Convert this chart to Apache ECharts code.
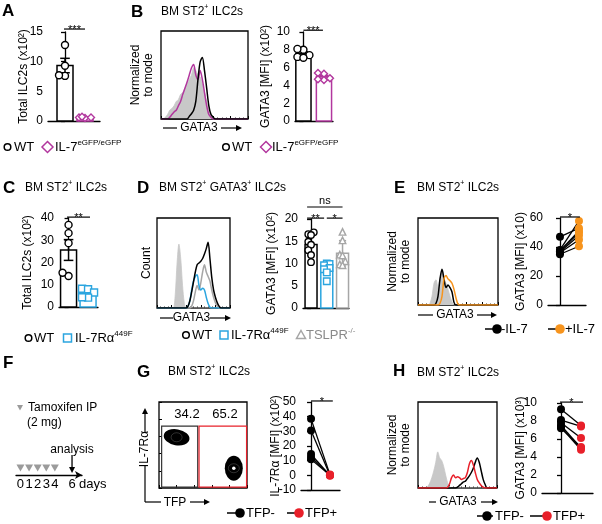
<!DOCTYPE html>
<html><head><meta charset="utf-8">
<script src="https://cdn.jsdelivr.net/npm/echarts@6/dist/echarts.min.js"></script>
<style>html,body{margin:0;padding:0;background:#fff}#c{width:602px;height:524px}</style>
</head><body><div id="c"></div><script>
// ================= DATA =================
// Panel A
const A_WT = [12.8, 9.3, 7.6, 7.7];
const A_KO = [0.5, 0.6, 0.7, 0.6];
const A_yTicks = [0, 5, 10, 15];
const A_sig = [[-0.05, 1.0, 15.5]];
const A_sigText = ['***'];
// Panel B
const B_histIso = [0,0,0.02,0.05,0.1,0.12,0.15,0.2,0.22,0.28,0.3,0.35,0.4,0.45,0.5,0.58,0.55,0.5,0.48,0.4,0.3,0.2,0.1,0.05,0.02,0,0,0,0,0,0,0,0,0,0,0,0,0,0,0,0];
const B_histKO  = [0,0,0,0,0.02,0.05,0.08,0.1,0.15,0.2,0.28,0.35,0.42,0.5,0.58,0.62,0.5,0.45,0.55,0.45,0.3,0.15,0.05,0.02,0,0,0,0,0,0,0,0,0,0,0,0,0,0,0,0,0];
const B_histWT  = [0,0,0,0,0,0,0,0,0,0,0,0,0,0.03,0.06,0.1,0.2,0.45,0.65,0.7,0.55,0.35,0.15,0.05,0.02,0,0,0,0,0,0,0,0,0,0,0,0,0,0,0,0];
const B_WT = [8.0, 7.4, 8.1, 7.2, 7.1];
const B_KO = [5.3, 5.4, 4.6, 4.7, 4.8];
const B_yTicks = [0, 2, 4, 6, 8, 10];
const B_sig = [[0, 0.95, 10.2]];
const B_sigText = ['***'];
// Panel C
const C_WT = [36.9, 33.2, 28.7, 13.9, 15.4];
const C_KI = [8.2, 8.0, 6.5, 4.2, 4.4];
const C_yTicks = [0, 10, 20, 30, 40];
const C_sig = [[-0.08, 1.1, 40.4]];
const C_sigText = ['**'];
// Panel D
const D_histIso   = [0,0,0,0,0,0,0,0,0,0,0.15,0.5,0.71,0.55,0.25,0.05,0,0,0,0,0,0,0,0,0,0,0,0,0,0,0,0,0,0,0,0,0,0,0,0,0];
const D_histTSLPR = [0,0,0,0,0,0,0,0,0,0,0,0,0,0,0,0,0,0,0,0.02,0.08,0.18,0.25,0.2,0.28,0.4,0.48,0.4,0.35,0.3,0.2,0.12,0.06,0.02,0,0,0,0,0,0,0];
const D_histKI    = [0,0,0,0,0,0,0,0,0,0,0,0,0,0,0,0,0,0.02,0.08,0.2,0.3,0.35,0.37,0.25,0.2,0.22,0.2,0.12,0.05,0.01,0,0,0,0,0,0,0,0,0,0,0];
const D_histWT    = [0,0,0,0,0,0,0,0,0,0,0,0,0,0,0,0,0,0.02,0.08,0.18,0.29,0.4,0.48,0.5,0.52,0.55,0.6,0.66,0.73,0.55,0.34,0.2,0.12,0.06,0.02,0,0,0,0,0,0];
const D_WT = [16.6, 17.0, 16.4, 14.9, 14.2, 13.0, 11.9, 10.3];
const D_KI = [10.0, 9.9, 9.6, 9.0, 8.7, 8.0, 6.0];
const D_TSLPR = [17.1, 15.2, 12.0, 11.8, 10.5, 9.8, 9.6];
const D_yTicks = [0, 5, 10, 15, 20];
const D_sig = [[-0.25, 2.0, 22.7], [-0.25, 0.83, 20.2], [1.0, 2.0, 20.2]];
const D_sigText = ['ns', '**', '*'];
// Panel E
const E_histIso  = [0,0,0,0,0,0,0.02,0.1,0.25,0.29,0.2,0.3,0.4,0.3,0.25,0.18,0.1,0.04,0,0,0,0,0,0,0,0,0,0,0,0,0,0,0,0,0,0,0,0,0,0,0];
const E_histNo   = [0,0,0,0,0,0,0,0,0,0.02,0.1,0.3,0.41,0.3,0.2,0.23,0.2,0.15,0.03,0,0,0,0,0,0,0,0,0,0,0,0,0,0,0,0,0,0,0,0,0,0];
const E_histIL7  = [0,0,0,0,0,0,0,0,0,0,0,0.02,0.1,0.3,0.34,0.3,0.28,0.25,0.18,0.08,0.01,0,0,0,0,0,0,0,0,0,0,0,0,0,0,0,0,0,0,0,0];
const E_noIL7 = [47, 38, 37.5, 37, 36.5, 36, 35];
const E_IL7   = [53, 58, 51, 50, 48, 45, 40.5];
const E_yTicks = [0, 20, 40, 60];
const E_sig = [[0, 1.05, 60.7]];
const E_sigText = ['*'];
// Panel F
const F_injectionDays = [0, 1, 2, 3, 4];
const F_analysisDay = [6];
const F_dayTicks = [0, 1, 2, 3, 4, 6];
// Panel G
const G_gates = [[3, 1, 44, 72], [45.5, 1, 99.5, 72]];
const G_gateFreq = ['34.2', '65.2'];
const G_populations = [[20, 59], [85, 23]];
const G_TFPneg = [38.5, 30.5, 14.5, 12.5, 11];
const G_TFPpos = [0.5, 0, -0.3, 0.2, 0];
const G_yTicks = [-10, 0, 10, 20, 30, 40, 50];
const G_sig = [[0, 1.15, 50.7]];
const G_sigText = ['*'];
// Panel H
const H_histIso = [0,0,0,0,0,0.02,0.06,0.12,0.2,0.3,0.42,0.35,0.32,0.25,0.15,0.06,0.01,0,0,0,0,0,0,0,0,0,0,0,0,0,0,0,0,0,0,0,0,0,0,0,0];
const H_histNeg = [0,0,0,0,0,0,0,0,0,0,0,0,0,0,0,0,0,0,0,0,0.01,0.03,0.05,0.07,0.08,0.11,0.14,0.18,0.23,0.3,0.35,0.3,0.2,0.1,0.04,0,0,0,0,0,0];
const H_histPos = [0,0,0,0,0,0,0,0,0,0,0,0,0,0,0,0.01,0.05,0.12,0.15,0.12,0.13,0.12,0.1,0.11,0.12,0.18,0.28,0.32,0.27,0.18,0.1,0.06,0.03,0.01,0,0,0,0,0,0,0];
const H_TFPneg = [9.3, 8.1, 7.8, 7.5, 7.3, 7.2];
const H_TFPpos = [7.5, 7.4, 6.1, 5.0, 4.8, 5.1];
const H_yTicks = [0, 2, 4, 6, 8, 10];
const H_sig = [[-0.05, 1.1, 10.1]];
const H_sigText = ['*'];

// ================= STYLE / BUILD =================
const FONT = '"Liberation Sans", Arial, Helvetica, sans-serif';
const MAG = '#b2379e', BLUE = '#2ba5df', TGRAY = '#a6a6a6', ORANGE = '#f7941d', RED = '#e8202a', HGRAY = '#c8c8c8';
const option = {animation:false, backgroundColor:'#fff', grid:[], xAxis:[], yAxis:[], series:[], graphic:[]};
const AX = {color:'#000', width:1.3};

function addGrid(grid, xa, ya){
  const i = option.grid.length;
  option.grid.push(grid);
  option.xAxis.push(Object.assign({gridIndex:i}, xa));
  option.yAxis.push(Object.assign({gridIndex:i}, ya));
  return i;
}
function valueYAxis(ticks, name, nameGap){
  return {type:'value', min:ticks[0], max:ticks[ticks.length-1], interval:ticks[1]-ticks[0],
    name:name, nameLocation:'middle', nameGap:nameGap, nameRotate:90, nameMoveOverlap:false,
    nameTextStyle:{fontFamily:FONT, fontSize:12, color:'#000'},
    axisLine:{show:true, lineStyle:AX}, axisTick:{show:true, length:4, lineStyle:AX},
    axisLabel:{fontFamily:FONT, fontSize:12, color:'#000', margin:5}, splitLine:{show:false}};
}
function plainXAxis(min, max){
  return {type:'value', min:min, max:max, axisLine:{show:true, onZero:false, lineStyle:AX},
    axisTick:{show:false}, axisLabel:{show:false}, splitLine:{show:false}};
}
// simple beeswarm: offsets (in px) so that symbols of diameter d do not overlap, limited to +-maxOff
function swarm(vals, k, pxX, pxY, d, maxOff){
  const order = vals.map((v, i) => i).sort((a, b) => vals[a] - vals[b]);
  const placed = [], out = new Array(vals.length);
  order.forEach(i => {
    const v = vals[i];
    const cands = [0];
    for (let s = 1; s <= 8; s++) { cands.push(-s * d / 2, s * d / 2); }
    let best = 0, bestScore = -1;
    for (const c of cands) {
      if (Math.abs(c) > maxOff) continue;
      let mind = Infinity;
      placed.forEach(p => { mind = Math.min(mind, Math.hypot(c - p[0], (v - p[1]) * pxY)); });
      if (mind >= d) { best = c; bestScore = Infinity; break; }
      if (mind > bestScore) { bestScore = mind; best = c; }
    }
    placed.push([best, v]);
    out[i] = [k + best / pxX, v];
  });
  return out;
}
function sigSeries(gi, sigs, texts){
  option.series.push({type:'custom', xAxisIndex:gi, yAxisIndex:gi, silent:true, z:5, clip:false,
    data:sigs.map(s => [s[0], s[1], s[2]]),
    renderItem:(p, api) => {
      const s = sigs[p.dataIndex], t = texts[p.dataIndex];
      const a = api.coord([s[0], s[2]]), b = api.coord([s[1], s[2]]);
      const star = t.indexOf('*') >= 0;
      return {type:'group', children:[
        {type:'line', shape:{x1:a[0], y1:a[1], x2:b[0], y2:b[1]}, style:{stroke:'#000', lineWidth:1.2}},
        {type:'text', x:(a[0]+b[0])/2, y: star ? a[1]+1 : a[1]-1,
         style:{text:t, fontFamily:FONT, fontSize:11, fill:'#000', align:'center', verticalAlign: star ? 'middle' : 'bottom'}}
      ]};
    }});
}
function barPanel(cfg){
  const gi = addGrid({left:cfg.box[0], top:cfg.box[1], width:cfg.box[2], height:cfg.box[3]},
    plainXAxis(cfg.xr[0], cfg.xr[1]), valueYAxis(cfg.ticks, cfg.name, cfg.nameGap));
  const pxX = cfg.box[2] / (cfg.xr[1] - cfg.xr[0]);
  const pxY = cfg.box[3] / (cfg.ticks[cfg.ticks.length-1] - cfg.ticks[0]);
  cfg.groups.forEach((vals, k) => {
    const n = vals.length, mean = vals.reduce((a, b) => a + b, 0) / n;
    const sd = Math.sqrt(vals.reduce((a, b) => a + (b - mean) * (b - mean), 0) / (n - 1));
    const err = cfg.err === 'sem' ? sd / Math.sqrt(n) : sd;
    const col = cfg.colors[k], hw = cfg.halfW;
    option.series.push({type:'custom', xAxisIndex:gi, yAxisIndex:gi, z:2, silent:true, clip:false,
      data:[[k, mean, err]],
      renderItem:(p, api) => {
        const x = api.value(0), m = api.value(1), e = api.value(2);
        const bl = api.coord([x - hw, 0]), tr = api.coord([x + hw, m]);
        const t = api.coord([x, m + e]), b = api.coord([x, m - e]);
        const cw = (tr[0] - bl[0]) * 0.3;
        const st = {stroke:col, lineWidth:1.5};
        return {type:'group', children:[
          {type:'rect', shape:{x:bl[0], y:tr[1], width:tr[0]-bl[0], height:bl[1]-tr[1]}, style:{fill:'#fff', stroke:col, lineWidth:1.5}},
          {type:'line', shape:{x1:t[0], y1:t[1], x2:b[0], y2:b[1]}, style:st},
          {type:'line', shape:{x1:t[0]-cw, y1:t[1], x2:t[0]+cw, y2:t[1]}, style:st},
          {type:'line', shape:{x1:b[0]-cw, y1:b[1], x2:b[0]+cw, y2:b[1]}, style:st}
        ]};
      }});
    const ss = cfg.symSize || 7;
    option.series.push({type:'scatter', xAxisIndex:gi, yAxisIndex:gi, z:3, silent:true,
      data:swarm(vals, k, pxX, pxY, ss - 1, hw * pxX - 1.5), symbol:cfg.symbols[k], symbolSize:ss,
      itemStyle:{color:'#fff', borderColor:col, borderWidth:1.4, opacity:1}});
  });
  sigSeries(gi, cfg.sig, cfg.sigText);
  return gi;
}
function pairedPanel(cfg){
  const gi = addGrid({left:cfg.box[0], top:cfg.box[1], width:cfg.box[2], height:cfg.box[3]},
    plainXAxis(cfg.xr[0], cfg.xr[1]), valueYAxis(cfg.ticks, cfg.name, cfg.nameGap));
  cfg.a.forEach((v, i) => {
    option.series.push({type:'line', xAxisIndex:gi, yAxisIndex:gi, silent:true, z:3,
      data:[{value:[0, cfg.a[i]], itemStyle:{color:cfg.ca}}, {value:[1, cfg.b[i]], itemStyle:{color:cfg.cb}}],
      symbol:'circle', symbolSize:8, showSymbol:true, lineStyle:{color:'#000', width:1.3}, itemStyle:{opacity:1}});
  });
  sigSeries(gi, cfg.sig, cfg.sigText);
  return gi;
}
function histPanel(cfg){
  const gi = addGrid({left:cfg.box[0], top:cfg.box[1], width:cfg.box[2], height:cfg.box[3], show:true, borderColor:'#000', borderWidth:1.3, backgroundColor:'rgba(0,0,0,0)'},
    {type:'value', min:0, max:40, interval:8, axisLine:{show:false}, axisTick:{show:true, inside:true, length:3, lineStyle:{color:'#000', width:1}},
     minorTick:{show:true, splitNumber:4, length:1.5, lineStyle:{color:'#000', width:0.8}}, axisLabel:{show:false}, splitLine:{show:false}},
    {type:'value', min:0, max:1, axisLine:{show:false}, axisTick:{show:false}, axisLabel:{show:false}, splitLine:{show:false},
     name:cfg.name, nameLocation:'middle', nameGap:cfg.nameGap, nameRotate:90, nameMoveOverlap:false,
     nameTextStyle:{fontFamily:FONT, fontSize:12, color:'#000', lineHeight:13}});
  cfg.curves.forEach((c, idx) => {
    const s = {type:'line', xAxisIndex:gi, yAxisIndex:gi, silent:true, z:2 + idx,
      data:c.data.map((v, i) => [i, v]), smooth:0.3, symbol:'none', showSymbol:false,
      lineStyle:{color:c.color, width:c.fill ? 0.8 : 1.5}};
    if (c.fill) s.areaStyle = {color:c.color, opacity:1};
    option.series.push(s);
  });
  return gi;
}

// ---------- graphic helpers
const GR = option.graphic;
const RICH = (fs) => ({n:{fontFamily:FONT, fontSize:fs, lineHeight:fs + 4}, s:{fontFamily:FONT, fontSize:Math.round(fs*0.62), lineHeight:Math.round(fs*0.62)+1, verticalAlign:'top'}});
function txt(x, y, text, o){
  o = o || {};
  const st = {text:text, fontFamily:FONT, fontSize:o.fs || 12, fill:o.color || '#000', align:o.align || 'left', verticalAlign:o.va || 'middle', fontWeight:o.fw || 'normal'};
  if (o.rich) st.rich = RICH(o.fs || 12);
  GR.push({type:'text', x:x, y:y, rotation:o.rot || 0, silent:true, style:st});
}
function ln(x1, y1, x2, y2, color, w){ GR.push({type:'line', silent:true, shape:{x1:x1, y1:y1, x2:x2, y2:y2}, style:{stroke:color || '#000', lineWidth:w || 1.2}}); }
function poly(points, fill){ GR.push({type:'polygon', silent:true, shape:{points:points}, style:{fill:fill || '#000'}}); }
function shape(kind, cx, cy, color){
  const st = {fill:'#fff', stroke:color, lineWidth:1.5};
  if (kind === 'circle') GR.push({type:'circle', silent:true, shape:{cx:cx, cy:cy, r:3.3}, style:st});
  if (kind === 'diamond') GR.push({type:'polygon', silent:true, shape:{points:[[cx, cy-5.5],[cx+5.5, cy],[cx, cy+5.5],[cx-5.5, cy]]}, style:st});
  if (kind === 'rect') GR.push({type:'rect', silent:true, shape:{x:cx-4, y:cy-4, width:8, height:8}, style:st});
  if (kind === 'triangle') GR.push({type:'polygon', silent:true, shape:{points:[[cx, cy-4.5],[cx+4.5, cy+3.5],[cx-4.5, cy+3.5]]}, style:st});
}
function dotLegend(x1, x2, cx, y, color, tx, label){
  ln(x1, y, x2, y, '#000', 1.5);
  GR.push({type:'circle', silent:true, shape:{cx:cx, cy:y, r:4.8}, style:{fill:color}});
  txt(tx, y, label, {fs:13});
}
function arrowLabel(x1, a, b, x2, y, tc, label){
  ln(x1, y, a, y); ln(b, y, x2 - 4, y);
  poly([[x2, y], [x2 - 6, y - 3], [x2 - 6, y + 3]]);
  txt(tc, y, label, {fs:12, align:'center'});
}

// ================= PANELS =================
// A
barPanel({box:[48, 32, 52, 89], xr:[-0.85, 1.75], ticks:A_yTicks, name:'Total ILC2s (x10²)', nameGap:18,
  groups:[A_WT, A_KO], colors:['#000', MAG], symbols:['circle', 'diamond'], err:'sem', halfW:0.4,
  sig:A_sig, sigText:A_sigText});
// B
histPanel({box:[161, 31, 87, 88], name:'Normalized\nto mode', nameGap:6,
  curves:[{data:B_histIso, color:HGRAY, fill:true}, {data:B_histKO, color:MAG}, {data:B_histWT, color:'#000'}]});
barPanel({box:[295, 32, 38, 89], xr:[-0.41, 1.44], ticks:B_yTicks, name:'GATA3 [MFI] (x10²)', nameGap:23,
  groups:[B_WT, B_KO], colors:['#000', MAG], symbols:['circle', 'diamond'], err:'sem', halfW:0.37,
  sig:B_sig, sigText:B_sigText});
// C
barPanel({box:[59, 218, 39, 89], xr:[-0.49, 1.51], ticks:C_yTicks, name:'Total ILC2s (x10²)', nameGap:25,
  groups:[C_WT, C_KI], colors:['#000', BLUE], symbols:['circle', 'rect'], err:'sem', halfW:0.41,
  sig:C_sig, sigText:C_sigText});
// D
histPanel({box:[157, 218, 73, 90], name:'Count', nameGap:4,
  curves:[{data:D_histIso, color:HGRAY, fill:true}, {data:D_histTSLPR, color:TGRAY}, {data:D_histKI, color:BLUE}, {data:D_histWT, color:'#000'}]});
barPanel({box:[303, 219, 46, 89], xr:[-0.51, 2.41], ticks:D_yTicks, name:'GATA3 [MFI] (x10²)', nameGap:25,
  groups:[D_WT, D_KI, D_TSLPR], colors:['#000', BLUE, TGRAY], symbols:['circle', 'rect', 'triangle'], err:'sd', halfW:0.38,
  sig:D_sig, sigText:D_sigText, symSize:6.5});
// E
histPanel({box:[418, 218, 80, 87], name:'Normalized\nto mode', nameGap:6,
  curves:[{data:E_histIso, color:HGRAY, fill:true}, {data:E_histNo, color:'#000'}, {data:E_histIL7, color:ORANGE}]});
pairedPanel({box:[548, 218, 38, 87], xr:[-0.63, 1.37], ticks:E_yTicks, name:'GATA3 [MFI] (x10)', nameGap:21,
  a:E_noIL7, b:E_IL7, ca:'#000', cb:ORANGE, sig:E_sig, sigText:E_sigText});
// F timeline
const fGi = addGrid({left:16, top:440, width:66, height:35},
  {type:'value', min:-0.52, max:7.16, axisLine:{show:true, onZero:false, symbol:['none', 'arrow'], symbolSize:[6, 7], lineStyle:AX},
   axisTick:{show:false}, axisLabel:{show:true, customValues:F_dayTicks, fontFamily:FONT, fontSize:13, color:'#000', margin:3}, splitLine:{show:false}},
  {type:'value', min:0, max:1, show:false});
option.series.push({type:'scatter', xAxisIndex:fGi, yAxisIndex:fGi, silent:true, data:F_injectionDays.map(d => [d, 0.2]),
  symbol:'triangle', symbolRotate:180, symbolSize:[8, 7], itemStyle:{color:'#9b9b9b', opacity:1}});
option.series.push({type:'custom', xAxisIndex:fGi, yAxisIndex:fGi, silent:true, clip:false, data:F_analysisDay.map(d => [d, 0]),
  renderItem:(p, api) => {
    const d = api.value(0), t = api.coord([d, 0.57]), b = api.coord([d, 0.06]), l = api.coord([d, 0.72]);
    return {type:'group', children:[
      {type:'line', shape:{x1:t[0], y1:t[1], x2:b[0], y2:b[1] - 4}, style:{stroke:'#000', lineWidth:1.3}},
      {type:'polygon', shape:{points:[[b[0], b[1]], [b[0]-3, b[1]-6], [b[0]+3, b[1]-6]]}, style:{fill:'#000'}},
      {type:'text', x:l[0], y:l[1], style:{text:'analysis', fontFamily:FONT, fontSize:12, fill:'#000', align:'center', verticalAlign:'middle'}}
    ]};
  }});
// G flow plot
const gGi = addGrid({left:159, top:402, width:88, height:86, show:true, borderColor:'#000', borderWidth:1.3, backgroundColor:'rgba(0,0,0,0)'},
  {type:'value', min:0, max:100, interval:20, axisLine:{show:false}, axisTick:{show:true, inside:true, length:3, lineStyle:{color:'#000'}}, axisLabel:{show:false}, splitLine:{show:false}},
  {type:'value', min:0, max:100, interval:20, axisLine:{show:false}, axisTick:{show:true, inside:true, length:3, lineStyle:{color:'#000'}}, axisLabel:{show:false}, splitLine:{show:false}});
const gateColors = ['#333', RED];
option.series.push({type:'custom', xAxisIndex:gGi, yAxisIndex:gGi, silent:true, z:4, data:G_gates,
  renderItem:(p, api) => {
    const a = api.coord([api.value(0), api.value(1)]), b = api.coord([api.value(2), api.value(3)]);
    return {type:'rect', shape:{x:a[0], y:b[1], width:b[0]-a[0], height:a[1]-b[1]}, style:{fill:null, stroke:gateColors[p.dataIndex], lineWidth:1.2}};
  }});
option.series.push({type:'scatter', xAxisIndex:gGi, yAxisIndex:gGi, silent:true, z:3, data:[G_populations[0]], symbol:'circle', symbolSize:[26, 16], symbolRotate:-10, itemStyle:{color:'#000', opacity:1}});
option.series.push({type:'scatter', xAxisIndex:gGi, yAxisIndex:gGi, silent:true, z:3, data:[G_populations[1]], symbol:'circle', symbolSize:[18, 25], itemStyle:{color:'#000', opacity:1}});
option.series.push({type:'scatter', xAxisIndex:gGi, yAxisIndex:gGi, silent:true, z:3, data:G_populations, symbol:'circle', symbolSize:[11, 9], itemStyle:{color:'rgba(0,0,0,0)', borderColor:'rgba(255,255,255,0.3)', borderWidth:0.6, opacity:1}});
option.series.push({type:'scatter', xAxisIndex:gGi, yAxisIndex:gGi, silent:true, z:3, data:[G_populations[1]], symbol:'circle', symbolSize:3.5, itemStyle:{color:'#fff', opacity:1}});
pairedPanel({box:[301, 402, 39, 88], xr:[-0.53, 1.53], ticks:G_yTicks, name:'IL-7Rα [MFI] (x10²)', nameGap:19,
  a:G_TFPneg, b:G_TFPpos, ca:'#000', cb:RED, sig:G_sig, sigText:G_sigText});
// H
histPanel({box:[418, 402, 79, 86], name:'Normalized\nto mode', nameGap:6,
  curves:[{data:H_histIso, color:HGRAY, fill:true}, {data:H_histNeg, color:'#000'}, {data:H_histPos, color:RED}]});
pairedPanel({box:[542, 403, 51, 90], xr:[-0.95, 1.6], ticks:H_yTicks, name:'GATA3 [MFI] (x10³)', nameGap:15,
  a:H_TFPneg, b:H_TFPpos, ca:'#000', cb:RED, sig:H_sig, sigText:H_sigText});

// ================= TEXT / ANNOTATIONS =================
const LET = {fs:17, fw:'bold'};
txt(2, 11, 'A', LET); txt(131, 12, 'B', LET); txt(3, 188, 'C', LET); txt(137, 188, 'D', LET);
txt(394, 188, 'E', LET); txt(3, 363, 'F', LET); txt(137, 372, 'G', LET); txt(393, 371, 'H', LET);
txt(161, 12, '{n|BM ST2}{s|+}{n| ILC2s}', {rich:true});
txt(25, 188, '{n|BM ST2}{s|+}{n| ILC2s}', {rich:true});
txt(159, 188, '{n|BM ST2}{s|+}{n| GATA3}{s|+}{n| ILC2s}', {rich:true});
txt(417, 188, '{n|BM ST2}{s|+}{n| ILC2s}', {rich:true});
txt(168, 372, '{n|BM ST2}{s|+}{n| ILC2s}', {rich:true});
txt(417, 373, '{n|BM ST2}{s|+}{n| ILC2s}', {rich:true});
// legends A-D
shape('circle', 7.5, 147, '#000'); txt(14, 147, 'WT', {fs:13});
shape('diamond', 47.5, 147, MAG); txt(55, 147, '{n|IL-7}{s|eGFP/eGFP}', {fs:13, rich:true});
shape('circle', 226, 147, '#000'); txt(232, 147, 'WT', {fs:13});
shape('diamond', 266, 147, MAG); txt(272, 147, '{n|IL-7}{s|eGFP/eGFP}', {fs:13, rich:true});
shape('circle', 28.5, 338, '#000'); txt(34, 338, 'WT', {fs:13});
shape('rect', 67.5, 338, BLUE); txt(75, 338, '{n|IL-7Rα}{s|449F}', {fs:13, rich:true});
shape('circle', 186, 335, '#000'); txt(192, 335, 'WT', {fs:13});
shape('rect', 224, 335, BLUE); txt(231, 335, '{n|IL-7Rα}{s|449F}', {fs:13, rich:true});
shape('triangle', 301, 335, TGRAY); txt(306, 335, '{n|TSLPR}{s|-/-}', {fs:13, rich:true, color:'#8a8a8a'});
// legends E, G, H
dotLegend(485, 499, 497, 329, '#000', 501, '-IL-7');
dotLegend(548, 563, 560, 329, ORANGE, 565, '+IL-7');
dotLegend(227, 242, 240, 513, '#000', 246, 'TFP-');
dotLegend(287, 302, 299, 513, RED, 305, 'TFP+');
dotLegend(477, 493, 487, 516, '#000', 495, 'TFP-');
dotLegend(530, 550, 547, 516, RED, 553, 'TFP+');
// histogram axis labels
arrowLabel(163, 177, 221, 242, 128, 199, 'GATA3');
arrowLabel(160, 173, 210, 231, 318, 191.5, 'GATA3');
arrowLabel(418, 433, 477, 497, 315, 455, 'GATA3');
arrowLabel(429, 436, 481, 498, 502, 458, 'GATA3');
// F texts
poly([[17, 405], [23, 405], [20, 410.5]], '#9b9b9b');
txt(28, 408, 'Tamoxifen IP', {fs:12});
txt(27, 423, '(2 mg)', {fs:12});
txt(79, 484, 'days', {fs:13});
// G flow axis labels & frequencies
ln(145, 502, 145, 466); ln(145, 433, 145, 413);
poly([[145, 408], [142, 414], [148, 414]]);
txt(145, 449, 'IL-7Rα', {fs:12, align:'center', rot:Math.PI / 2});
ln(145, 502, 161, 502);
txt(175, 503, 'TFP', {fs:12, align:'center'});
ln(190, 502, 205, 502); poly([[210, 502], [204, 499], [204, 505]]);
txt(187, 414, G_gateFreq[0], {fs:13, align:'center'});
txt(225, 414, G_gateFreq[1], {fs:13, align:'center'});

const chart = echarts.init(document.getElementById('c'), null, {renderer:'canvas'});
chart.setOption(option);
</script></body></html>
